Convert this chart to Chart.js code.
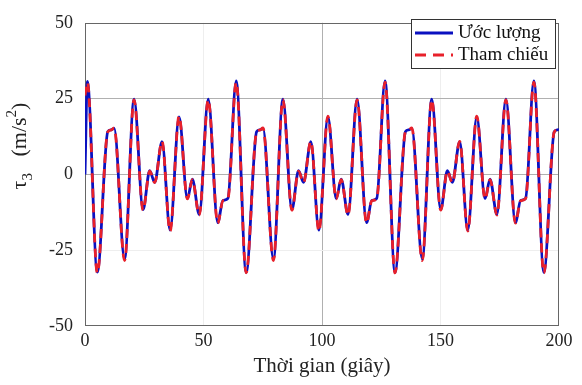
<!DOCTYPE html>
<html>
<head>
<meta charset="utf-8">
<script src="https://cdn.jsdelivr.net/npm/chart.js@4.4.0/dist/chart.umd.min.js"></script>
<style>
  html, body { margin: 0; padding: 0; background: #fff; }
  #wrap { width: 582px; height: 385px; }
</style>
</head>
<body>
<div id="wrap"><canvas id="tauChart" width="582" height="385"></canvas></div>
<script>
/* ── Data ── */
const thoiGian = [
  0, 1.0, 5.2, 9.6, 11.0, 12.3, 16.7, 20.7, 24.5, 27.3, 29.4, 32.5, 35.9, 39.7, 43.2, 45.3, 48.2, 52.0, 56.0, 58.2, 60.3,
  63.8, 68.0, 72.4, 73.8, 75.1, 79.5, 83.5, 87.3, 90.1, 92.2, 95.3, 98.7, 102.5, 106.0, 108.1, 111.0, 114.8, 118.8, 121.0, 123.1,
  126.6, 130.8, 135.2, 136.6, 137.9, 142.3, 146.3, 150.1, 152.9, 155.0, 158.1, 161.5, 165.3, 168.8, 170.9, 173.8, 177.6, 181.6, 183.8, 185.9,
  189.4, 193.6, 198.0, 199.4, 200
];

// Tham chiếu (reference, red dashed)
const thamChieu = [
  26.0, 30.4, -32.5, 14.0, 14.6, 15.3, -28.4, 24.6, -11.8, 1.1, -2.7, 10.9, -18.7, 19.2, -8.1, -1.7, -13.4, 24.6, -16.1, -8.7, -8.0,
  30.4, -32.5, 14.0, 14.6, 15.3, -28.4, 24.6, -11.8, 1.1, -2.7, 10.9, -18.7, 19.2, -8.1, -1.7, -13.4, 24.6, -16.1, -8.7, -8.0,
  30.4, -32.5, 14.0, 14.6, 15.3, -28.4, 24.6, -11.8, 1.1, -2.7, 10.9, -18.7, 19.2, -8.1, -1.7, -13.4, 24.6, -16.1, -8.7, -8.0,
  30.4, -32.5, 14.0, 14.6, 14.8
];

// Ước lượng (estimate, blue solid)
const uocLuong = [
  0.0, 30.7, -32.2, 14.1, 14.7, 15.2, -27.9, 24.8, -11.6, 1.2, -2.6, 10.8, -18.4, 19.0, -8.0, -1.6, -13.2, 24.8, -15.9, -8.6, -7.9,
  30.8, -32.3, 14.1, 14.7, 15.2, -27.9, 24.8, -11.6, 1.2, -2.6, 10.8, -18.4, 19.0, -8.0, -1.6, -13.2, 24.8, -15.9, -8.6, -7.9,
  30.8, -32.3, 14.1, 14.7, 15.2, -27.9, 24.8, -11.6, 1.2, -2.6, 10.8, -18.4, 19.0, -8.0, -1.6, -13.2, 24.8, -15.9, -8.6, -7.9,
  30.8, -32.3, 14.1, 14.7, 14.9
];

const xTicks = [0, 50, 100, 150, 200];
const yTicks = [-50, -25, 0, 25, 50];

const seriesNames = ['Ước lượng', 'Tham chiếu'];
const seriesColors = ['#0a10c0', '#e8202a'];

/* ── Helpers ── */
const SERIF = "'Liberation Serif', 'Times New Roman', serif";

function toPoints(xs, ys) {
  return xs.map((x, i) => ({ x: x, y: ys[i] }));
}

/* ── Box, y-axis title and legend ── */
const decorPlugin = {
  id: 'decor',
  beforeDatasetsDraw(chart) {
    const { ctx, chartArea: a } = chart;
    ctx.save();
    ctx.strokeStyle = '#666';
    ctx.lineWidth = 1;
    ctx.strokeRect(Math.round(a.left) + 0.5, Math.round(a.top) + 0.5,
      Math.round(a.right - a.left) - 1, Math.round(a.bottom - a.top) - 1);
    ctx.restore();
  },
  afterDraw(chart) {
    const { ctx } = chart;

    // y title: tau_3 (m/s^2), rotated
    const big = '22px ' + SERIF;
    const small = '15px ' + SERIF;
    const parts = [
      { t: '\u03C4', f: big, dy: 0 },
      { t: '3', f: small, dy: 6 },
      { t: '   (m/s', f: big, dy: 0 },
      { t: '2', f: small, dy: -10 },
      { t: ')', f: big, dy: 0 },
    ];
    ctx.save();
    let total = 0;
    parts.forEach((p) => { ctx.font = p.f; p.w = ctx.measureText(p.t).width; total += p.w; });
    ctx.translate(26, 146);
    ctx.rotate(-Math.PI / 2);
    ctx.fillStyle = '#222';
    ctx.textBaseline = 'alphabetic';
    let x = -total / 2;
    parts.forEach((p) => { ctx.font = p.f; ctx.fillText(p.t, x, p.dy); x += p.w; });
    ctx.restore();

    // legend box, top right inside the plot
    const bx = 411, by = 19, bw = 144, bh = 49;
    ctx.save();
    ctx.fillStyle = '#fff';
    ctx.fillRect(bx, by, bw, bh);
    ctx.strokeStyle = '#333';
    ctx.lineWidth = 1;
    ctx.strokeRect(bx + 0.5, by + 0.5, bw, bh);
    const rows = [33, 55];
    rows.forEach((ry, i) => {
      ctx.strokeStyle = seriesColors[i];
      ctx.lineWidth = 2.8;
      ctx.setLineDash(i === 1 ? [11, 7] : []);
      ctx.beginPath();
      ctx.moveTo(415, ry);
      ctx.lineTo(453, ry);
      ctx.stroke();
      ctx.setLineDash([]);
      ctx.fillStyle = '#111';
      ctx.font = '19px ' + SERIF;
      ctx.textBaseline = 'middle';
      ctx.fillText(seriesNames[i], 458, ry);
    });
    ctx.restore();
  },
};

/* ── Grid colours: faint lines where the figure barely shows them ── */
function gridColor(faint, edges) {
  return (c) => {
    const v = c.tick ? c.tick.value : null;
    if (edges.includes(v)) return 'rgba(0,0,0,0)';
    if (faint.includes(v)) return '#eeeeee';
    return '#b0b0b0';
  };
}

/* ── Chart ── */
Chart.defaults.font.family = SERIF;
Chart.defaults.color = '#222';

new Chart(document.getElementById('tauChart'), {
  type: 'line',
  data: {
    datasets: [
      {
        label: seriesNames[1],
        data: toPoints(thoiGian, thamChieu),
        borderColor: seriesColors[1],
        borderWidth: 2.8,
        borderDash: [9, 6],
        pointRadius: 0,
        cubicInterpolationMode: 'monotone',
        fill: false,
        order: 0,
      },
      {
        label: seriesNames[0],
        data: toPoints(thoiGian, uocLuong),
        borderColor: seriesColors[0],
        borderWidth: 2.8,
        pointRadius: 0,
        cubicInterpolationMode: 'monotone',
        fill: false,
        order: 1,
      },
    ],
  },
  options: {
    responsive: false,
    animation: false,
    devicePixelRatio: 1,
    layout: { padding: { left: 0, right: 23, top: 13, bottom: 0 } },
    plugins: {
      legend: { display: false },
      tooltip: { enabled: false },
    },
    scales: {
      x: {
        type: 'linear',
        min: xTicks[0],
        max: xTicks[xTicks.length - 1],
        afterBuildTicks: (s) => { s.ticks = xTicks.map((v) => ({ value: v })); },
        afterFit: (s) => { s.height = 59; },
        border: { display: false },
        grid: { color: gridColor([50, 150], [0, 200]), drawTicks: false, lineWidth: 1 },
        ticks: { padding: 4, font: { size: 18 }, color: '#222', maxRotation: 0 },
        title: {
          display: true,
          text: 'Thời gian (giây)',
          font: { size: 21 },
          color: '#222',
          padding: { top: 0, bottom: 6 },
        },
      },
      y: {
        min: yTicks[0],
        max: yTicks[yTicks.length - 1],
        afterBuildTicks: (s) => { s.ticks = yTicks.map((v) => ({ value: v })); },
        afterFit: (s) => { s.width = 85; },
        border: { display: false },
        grid: { color: gridColor([-25], [-50, 50]), drawTicks: false, lineWidth: 1 },
        ticks: { padding: 12, font: { size: 18 }, color: '#222' },
      },
    },
  },
  plugins: [decorPlugin],
});
</script>
</body>
</html>
